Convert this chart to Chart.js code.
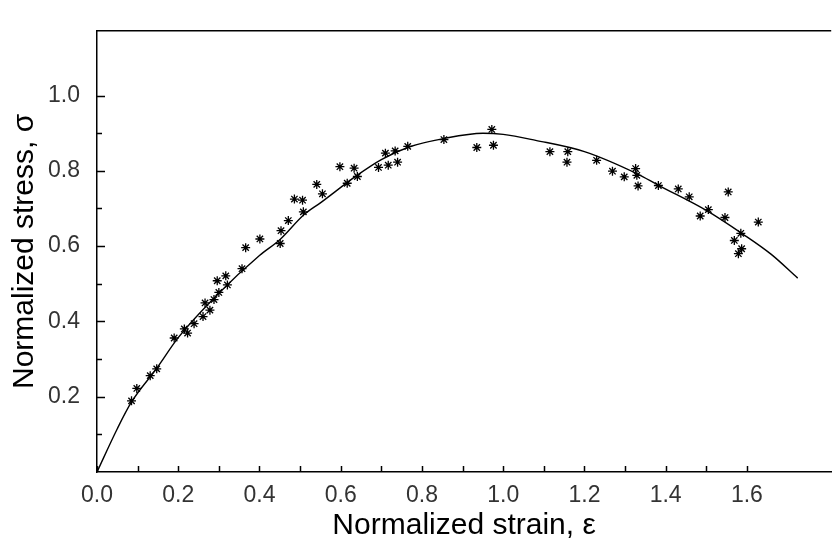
<!DOCTYPE html>
<html>
<head>
<meta charset="utf-8">
<script src="https://cdn.jsdelivr.net/npm/chart.js@4/dist/chart.umd.min.js"></script>
<style>
  body { margin: 0; background: #fff; }
</style>
</head>
<body>
<canvas id="myChart" width="837" height="544"></canvas>
<script>
// measured points (asterisks)
var strainPts = [0.085, 0.098, 0.131, 0.147, 0.190, 0.215, 0.223, 0.239, 0.261, 0.278, 0.266, 0.288, 0.300, 0.321, 0.296, 0.317,
  0.357, 0.366, 0.401, 0.451, 0.453, 0.471, 0.508, 0.486, 0.506, 0.541, 0.555, 0.598, 0.633, 0.616, 0.641, 0.693, 0.717, 0.740,
  0.710, 0.734, 0.765, 0.854, 0.935, 0.972, 0.976, 1.115, 1.159, 1.157, 1.230, 1.269, 1.298, 1.326, 1.329, 1.332, 1.382, 1.431,
  1.458, 1.505, 1.485, 1.554, 1.546, 1.628, 1.585, 1.569, 1.587, 1.579];
var stressPts = [0.189, 0.222, 0.256, 0.274, 0.356, 0.380, 0.369, 0.394, 0.413, 0.430, 0.449, 0.458, 0.477, 0.497, 0.508, 0.521,
  0.540, 0.596, 0.619, 0.607, 0.641, 0.668, 0.691, 0.725, 0.722, 0.764, 0.739, 0.811, 0.807, 0.767, 0.785, 0.809, 0.815, 0.823,
  0.847, 0.853, 0.865, 0.883, 0.862, 0.910, 0.868, 0.851, 0.851, 0.823, 0.828, 0.799, 0.784, 0.806, 0.788, 0.760, 0.761, 0.752,
  0.731, 0.697, 0.680, 0.744, 0.676, 0.664, 0.634, 0.615, 0.593, 0.580];

// fitted curve
var curveStrain = [0, 0.05, 0.085, 0.146, 0.2, 0.3, 0.4, 0.45, 0.51, 0.55, 0.64, 0.7, 0.77, 0.85, 0.95, 1.0, 1.08, 1.2, 1.33, 1.38, 1.5, 1.59, 1.66, 1.725];
var curveStress = [0, 0.115, 0.186, 0.274, 0.357, 0.475, 0.575, 0.617, 0.684, 0.715, 0.788, 0.83, 0.864, 0.885, 0.9, 0.897, 0.881, 0.851, 0.792, 0.763, 0.695, 0.632, 0.578, 0.515];

var xTicks = [0, 0.1, 0.2, 0.3, 0.4, 0.5, 0.6, 0.7, 0.8, 0.9, 1.0, 1.1, 1.2, 1.3, 1.4, 1.5, 1.6];
var xTickLabels = ['0.0', '', '0.2', '', '0.4', '', '0.6', '', '0.8', '', '1.0', '', '1.2', '', '1.4', '', '1.6'];
var yTicks = [0.1, 0.2, 0.3, 0.4, 0.5, 0.6, 0.7, 0.8, 0.9, 1.0];
var yTickLabels = ['', '0.2', '', '0.4', '', '0.6', '', '0.8', '', '1.0'];

var points = strainPts.map(function (v, i) { return { x: v, y: stressPts[i] }; });
var curve = curveStrain.map(function (v, i) { return { x: v, y: curveStress[i] }; });

// ticks drawn inward + top frame line
var insideTicks = {
  id: 'insideTicks',
  afterDraw: function (chart) {
    var ctx = chart.ctx, a = chart.chartArea;
    var xs = chart.scales.x, ys = chart.scales.y;
    ctx.save();
    ctx.strokeStyle = '#000';
    ctx.lineWidth = 1.5;
    ctx.beginPath();
    xTicks.forEach(function (v) {
      var px = Math.round(xs.getPixelForValue(v)) + 0.5;
      ctx.moveTo(px, a.bottom);
      ctx.lineTo(px, a.bottom - 6);
    });
    yTicks.forEach(function (v, i) {
      var py = Math.round(ys.getPixelForValue(v)) + 0.5;
      ctx.moveTo(a.left, py);
      ctx.lineTo(a.left + (yTickLabels[i] ? 8 : 5), py);
    });
    ctx.moveTo(a.left, a.top);
    ctx.lineTo(a.right, a.top);
    ctx.stroke();
    ctx.restore();
  }
};

var ctx = document.getElementById('myChart').getContext('2d');
var myChart = new Chart(ctx, {
  type: 'scatter',
  data: {
    datasets: [{
      label: 'curve',
      type: 'line',
      data: curve,
      borderColor: '#000',
      borderWidth: 1.4,
      pointRadius: 0,
      fill: false,
      cubicInterpolationMode: 'monotone'
    }, {
      label: 'data',
      data: points,
      pointStyle: 'star',
      pointRadius: 4.5,
      borderColor: '#000',
      backgroundColor: '#000',
      borderWidth: 1.3
    }]
  },
  options: {
    responsive: false,
    animation: false,
    layout: { padding: { top: 8, right: 0, left: 0, bottom: 0 } },
    plugins: {
      legend: { display: false },
      tooltip: { enabled: false }
    },
    scales: {
      x: {
        type: 'linear',
        min: 0,
        max: 1.8075,
        grid: { display: false, drawTicks: false },
        border: { display: true, color: '#000', width: 1.5 },
        afterBuildTicks: function (s) { s.ticks = xTicks.map(function (v) { return { value: v }; }); },
        afterFit: function (s) { s.height = 72; },
        ticks: {
          padding: 10,
          maxRotation: 0,
          autoSkip: false,
          color: '#333',
          font: { family: 'Liberation Sans, Arial', size: 23 },
          callback: function (v, i) { return xTickLabels[i]; }
        },
        title: {
          display: true,
          text: 'Normalized strain, \u03b5',
          color: '#000',
          font: { family: 'Liberation Sans, Arial', size: 30 },
          padding: { top: 0, bottom: 0 }
        }
      },
      y: {
        type: 'linear',
        min: 0,
        max: 1.172,
        grid: { display: false, drawTicks: false },
        border: { display: true, color: '#000', width: 1.5 },
        afterBuildTicks: function (s) { s.ticks = yTicks.map(function (v) { return { value: v }; }); },
        afterFit: function (s) { s.width = 97; },
        ticks: {
          padding: 17,
          autoSkip: false,
          color: '#333',
          font: { family: 'Liberation Sans, Arial', size: 23 },
          callback: function (v, i) { return yTickLabels[i]; }
        },
        title: {
          display: true,
          text: 'Normalized stress, \u03c3',
          color: '#000',
          font: { family: 'Liberation Sans, Arial', size: 30 },
          padding: { top: 7, bottom: 0 }
        }
      }
    }
  },
  plugins: [insideTicks]
});
</script>
</body>
</html>
